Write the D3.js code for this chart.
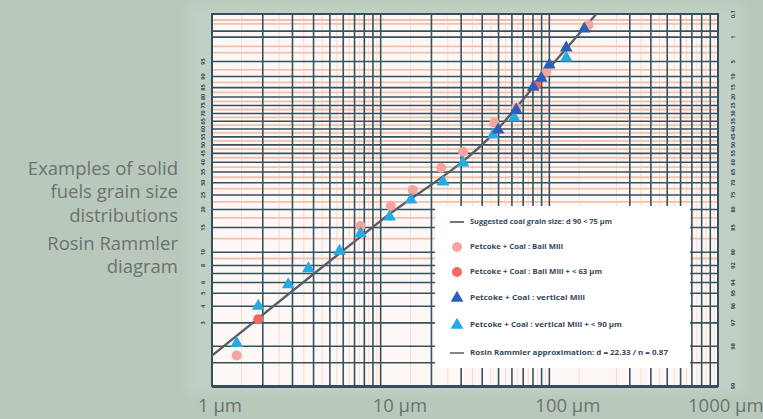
<!DOCTYPE html>
<html>
<head>
<meta charset="utf-8">
<script src="https://cdn.jsdelivr.net/npm/d3@7"></script>
<style>
  html, body { margin: 0; padding: 0; background: #b8c9bc; }
  svg { display: block; }
</style>
</head>
<body>
<script>
// Rosin Rammler diagram - residue R (%) vs grain size (µm)
const xTickValues = [1, 10, 100, 1000];
const xTickLabels = ["1 µm", "10 µm", "100 µm", "1000 µm"];

// size grid lines (µm) - the 200 line is missing on the original sheet
const majorX = [1, 2, 3, 4, 5, 6, 7, 8, 9, 10, 20, 30, 40, 50, 60, 70, 80, 90, 100, 300, 400, 500, 600, 700, 800, 900, 1000];
// residue grid lines (%)
const majorR = [0.6, 1, 5, 10, 15, 20, 25, 30, 35, 40, 45, 50, 55, 60, 65, 70, 75, 80, 85, 90, 92, 93, 94, 95, 96, 97, 98, 98.5];
const minorR = [0.2, 0.3, 2, 3, 7.5, 12.5, 17.5, 22.5, 27.5, 32.5, 37.5, 42.5, 47.5, 52.5, 57.5, 62.5, 67.5, 72.5, 77.5, 82.5, 87.5, 91];
const rightLabels = ["0,1", "1", "5", "10", "15", "20", "25", "30", "35", "40", "45", "50", "55", "60", "65", "70", "75", "80", "85", "90", "92", "94", "95", "96", "97", "98", "99"];
const rightLabelR = [0.1, 1, 5, 10, 15, 20, 25, 30, 35, 40, 45, 50, 55, 60, 65, 70, 75, 80, 85, 90, 92, 94, 95, 96, 97, 98, 99];
const leftLabels = ["95", "90", "85", "80", "75", "70", "65", "60", "55", "50", "45", "40", "35", "30", "25", "20", "15", "10", "8", "6", "5", "4", "3"];
const leftLabelR = [5, 10, 15, 20, 25, 30, 35, 40, 45, 50, 55, 60, 65, 70, 75, 80, 85, 90, 92, 94, 95, 96, 97];

// series: [size µm, residue %]
const fitLine = [[1, 98.3], [10, 83.3], [47, 42.5], [100, 6.9], [190, 0.1]];
const ballMill = [[1.40, 98.3], [7.6, 84.6], [11.5, 78.8], [15.5, 73.0], [22.8, 62.9], [30.8, 54.1], [47.1, 36.0], [63.6, 26.5], [96, 8.2], [171, 0.34]];
const ballMillSieved = [[1.88, 96.8], [83.7, 13.7]];
const verticalMill = [[49.7, 40.5], [63.6, 27.7], [80.3, 14.7], [89.6, 10.6], [100, 5.9], [126, 2.2], [161, 0.49]];
const verticalMillSieved = [[1.40, 97.9], [1.88, 96.0], [2.83, 94.2], [3.73, 92.4], [5.7, 89.8], [7.6, 86.4], [11.3, 82.2], [15.1, 76.8], [23.4, 69.6], [30.8, 60.3], [46.4, 43.7], [61.9, 32.8], [126, 4.1]];

const legendLabels = [
  "Suggested coal grain size: d 90 < 75 µm",
  "Petcoke + Coal : Ball Mill",
  "Petcoke + Coal : Ball Mill + < 63 µm",
  "Petcoke + Coal : vertical Mill",
  "Petcoke + Coal : vertical Mill + < 90 µm",
  "Rosin Rammler approximation: d = 22.33 / n = 0.87"
];

(function() {
  const W = 763, H = 419;
  const pl = 212, pr = 718, pt = 14, pb = 386;
  const rr = R => Math.log(Math.log(100 / R));

  const svg = d3.select("body").append("svg")
    .attr("width", W).attr("height", H);

  const defs = svg.append("defs");
  defs.append("filter").attr("id", "soft")
    .attr("x", "-5%").attr("y", "-5%").attr("width", "110%").attr("height", "110%")
    .append("feGaussianBlur").attr("stdDeviation", 4);

  const x = d3.scaleLog().domain([1, 1000]).range([pl, pr]);
  const y = d3.scaleLinear().domain([rr(0.1), rr(99)]).range([pt, pb]);
  const yR = R => y(rr(R));

  // pale sheet behind the diagram
  svg.append("rect")
    .attr("x", 188).attr("y", 5).attr("width", 556).attr("height", 388)
    .attr("fill", "#c1d0c5").attr("filter", "url(#soft)");

  // paper
  svg.append("rect")
    .attr("x", pl).attr("y", pt)
    .attr("width", pr - pl).attr("height", pb - pt)
    .attr("fill", "#fdf8f5");

  // minor (salmon) grid
  const xMinor = [];
  [1, 10, 100].forEach(d => [1.5, 2.5, 3.5, 4.5, 5.5, 6.5, 7.5, 8.5, 9.5].forEach(k => xMinor.push(k * d)));
  const grid = svg.append("g");
  grid.append("g").selectAll("line").data(xMinor).join("line")
    .attr("x1", d => x(d)).attr("x2", d => x(d))
    .attr("y1", pt).attr("y2", pb)
    .attr("stroke", "#f6dcd0").attr("stroke-width", 1);
  grid.append("g").selectAll("line").data(minorR).join("line")
    .attr("x1", pl).attr("x2", pr)
    .attr("y1", d => yR(d)).attr("y2", d => yR(d))
    .attr("stroke", "#f3c0ac").attr("stroke-width", 1.8);

  // major grid
  grid.append("g").selectAll("line").data(majorX).join("line")
    .attr("x1", d => x(d)).attr("x2", d => x(d))
    .attr("y1", pt).attr("y2", pb)
    .attr("stroke", "#36525f").attr("stroke-width", 1.6);
  grid.append("g").selectAll("line").data(majorR).join("line")
    .attr("x1", pl).attr("x2", pr)
    .attr("y1", d => yR(d)).attr("y2", d => yR(d))
    .attr("stroke", "#36525f").attr("stroke-width", 1.6);

  // frame
  svg.append("rect")
    .attr("x", pl).attr("y", pt)
    .attr("width", pr - pl).attr("height", pb - pt)
    .attr("fill", "none").attr("stroke", "#34505e").attr("stroke-width", 2);
  svg.append("line")
    .attr("x1", pl).attr("x2", pr).attr("y1", pb + 1).attr("y2", pb + 1)
    .attr("stroke", "#34505e").attr("stroke-width", 2);

  // side labels (rotated, small)
  svg.append("g").selectAll("text").data(leftLabelR).join("text")
    .attr("transform", d => `translate(203,${yR(d)}) rotate(-90)`)
    .attr("text-anchor", "middle").attr("dy", "0.35em")
    .attr("font-family", "Open Sans, sans-serif").attr("font-size", 5.5).attr("font-weight", "bold")
    .attr("fill", "#2e4a55")
    .text((d, i) => leftLabels[i]);
  svg.append("g").selectAll("text").data(rightLabelR).join("text")
    .attr("transform", d => `translate(733,${yR(d)}) rotate(-90)`)
    .attr("text-anchor", "middle").attr("dy", "0.35em")
    .attr("font-family", "Open Sans, sans-serif").attr("font-size", 5.5).attr("font-weight", "bold")
    .attr("fill", "#2e4a55")
    .text((d, i) => rightLabels[i]);

  // fitted line
  const line = d3.line().x(d => x(d[0])).y(d => yR(d[1])).curve(d3.curveMonotoneX);
  svg.append("path").datum(fitLine)
    .attr("d", line).attr("fill", "none")
    .attr("stroke", "#585e65").attr("stroke-width", 2.4);

  const tri = d3.symbol().type(d3.symbolTriangle).size(70);
  function circles(data, color) {
    svg.append("g").selectAll("circle").data(data).join("circle")
      .attr("cx", d => x(d[0])).attr("cy", d => yR(d[1]))
      .attr("r", 5).attr("fill", color);
  }
  function triangles(data, color) {
    svg.append("g").selectAll("path").data(data).join("path")
      .attr("transform", d => `translate(${x(d[0])},${yR(d[1])})`)
      .attr("d", tri).attr("fill", color);
  }
  circles(ballMill, "#f4a59e");
  circles(ballMillSieved, "#ee6b5d");
  triangles(verticalMillSieved, "#27a9e1");
  triangles(verticalMill, "#2b5fb6");

  // legend
  const lg = svg.append("g");
  lg.append("rect").attr("x", 435).attr("y", 206).attr("width", 255).attr("height", 162).attr("fill", "#ffffff");
  const legendY = [222, 247, 272, 298, 325, 353];
  const legendWidth = [142, 93, 132, 115, 152, 198];
  const legendColor = ["#3d4650", "#f4a59e", "#ee6b5d", "#2b5fb6", "#27a9e1", "#585e65"];
  const legendShape = ["line", "circle", "circle", "tri", "tri", "line"];
  legendLabels.forEach((t, i) => {
    const cy = legendY[i];
    if (legendShape[i] === "line") {
      lg.append("line").attr("x1", 450).attr("x2", 464).attr("y1", cy).attr("y2", cy)
        .attr("stroke", legendColor[i]).attr("stroke-width", 1.5);
    } else if (legendShape[i] === "circle") {
      lg.append("circle").attr("cx", 457).attr("cy", cy).attr("r", 5).attr("fill", legendColor[i]);
    } else {
      lg.append("path").attr("transform", `translate(457,${cy})`).attr("d", tri).attr("fill", legendColor[i]);
    }
    lg.append("text").attr("x", 470).attr("y", cy).attr("dy", "0.35em")
      .attr("font-family", "Open Sans, sans-serif").attr("font-size", 7).attr("font-weight", "bold")
      .attr("fill", "#34495c")
      .attr("textLength", legendWidth[i]).attr("lengthAdjust", "spacingAndGlyphs")
      .text(t);
  });

  // x labels
  const labelShift = [-14, -8, -14, -30];
  svg.append("g").selectAll("text").data(xTickValues).join("text")
    .attr("x", (d, i) => x(d) + labelShift[i])
    .attr("y", 412)
    .attr("font-family", "Open Sans, sans-serif").attr("font-size", 18.5)
    .attr("fill", "#6d7170")
    .text((d, i) => xTickLabels[i]);

  // caption
  const caption = svg.append("g").attr("font-family", "Open Sans, sans-serif").attr("font-size", 18.5)
    .attr("fill", "#6d7170").attr("text-anchor", "end");
  [["Examples of solid", 175], ["fuels grain size", 198], ["distributions", 222], ["Rosin Rammler", 250], ["diagram", 273]]
    .forEach(([t, yy]) => caption.append("text").attr("x", 178).attr("y", yy).text(t));
})();
</script>
</body>
</html>
